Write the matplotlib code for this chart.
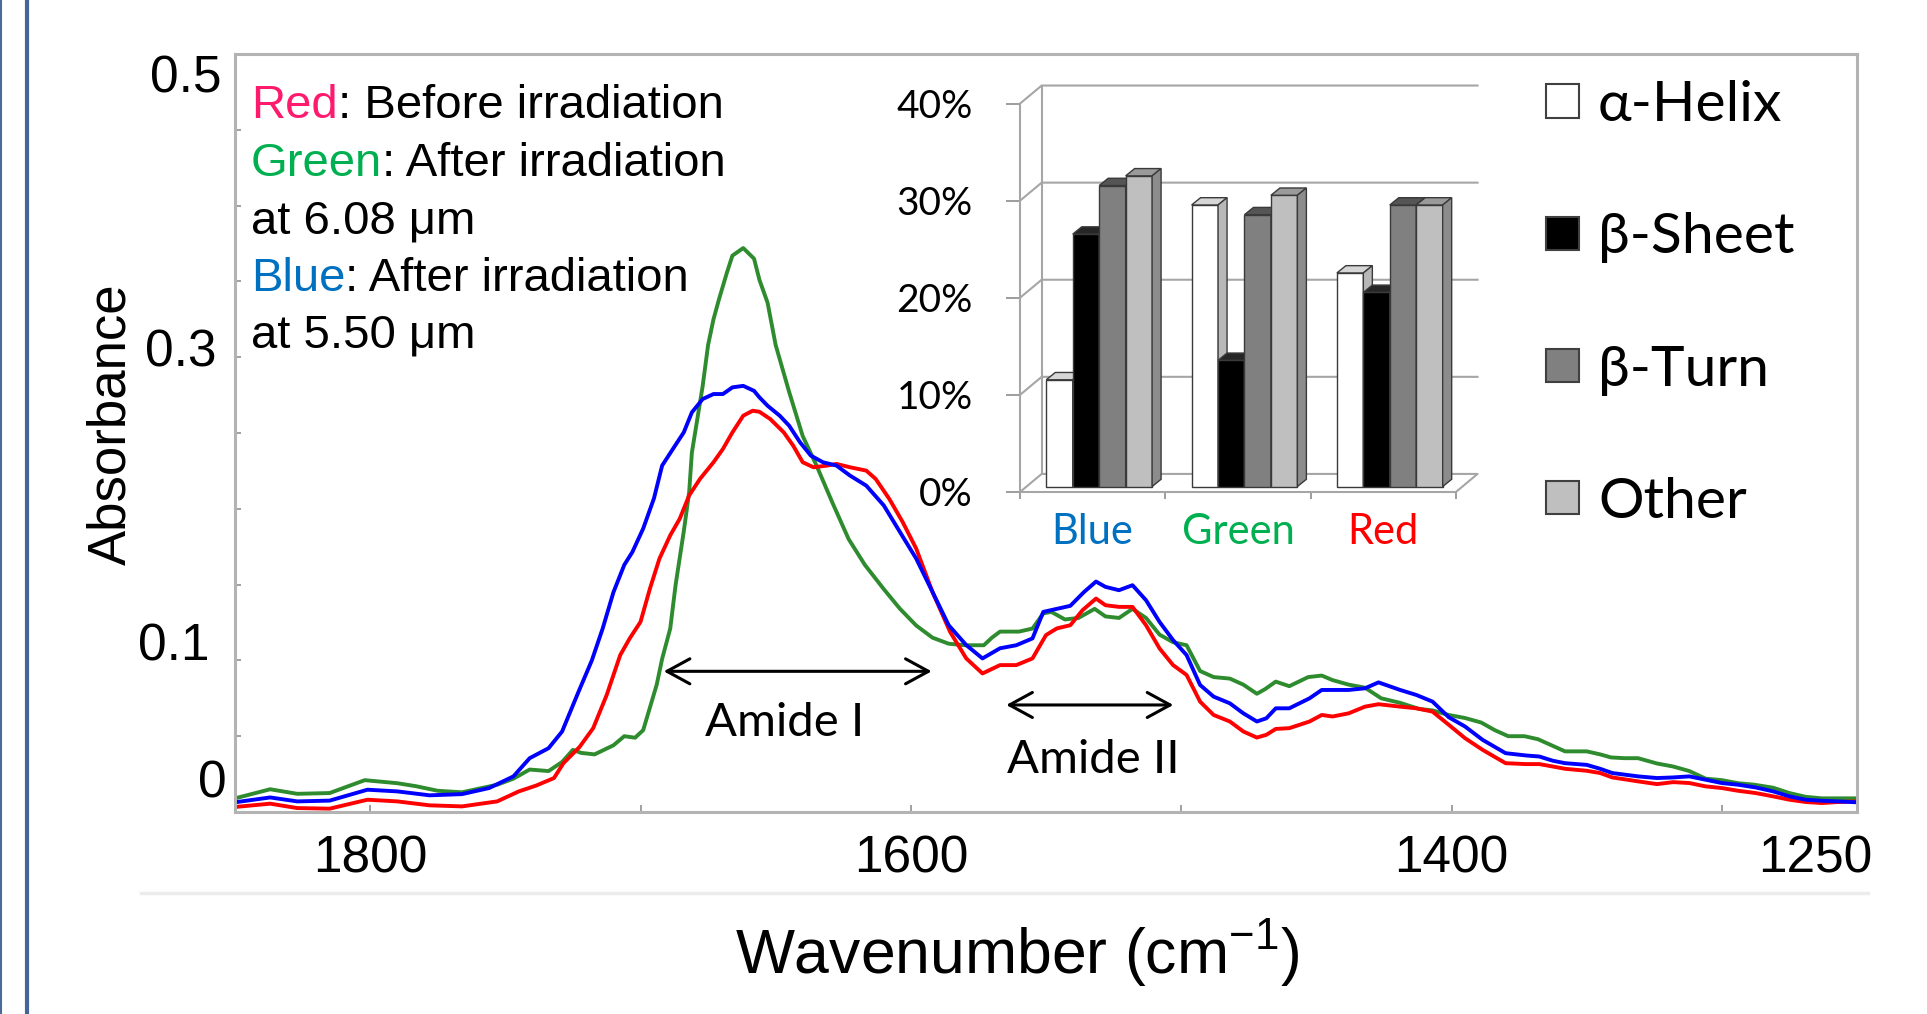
import numpy as np
import matplotlib
matplotlib.use("Agg")
import matplotlib.pyplot as plt
from matplotlib.patches import Polygon, Rectangle
from matplotlib.lines import Line2D
from matplotlib.transforms import ScaledTranslation

plt.rcParams['font.family'] = ['Liberation Sans', 'DejaVu Sans']
plt.rcParams['mathtext.fontset'] = 'custom'
plt.rcParams['mathtext.rm'] = 'Liberation Sans'
plt.rcParams['mathtext.it'] = 'Liberation Sans:italic'
plt.rcParams['mathtext.bf'] = 'Liberation Sans:bold'
CALIBRI = ['Lato', 'DejaVu Sans']   # closest thing to the Calibri text of the inset

# --- spectra (wavenumber cm-1, absorbance) ---
GREEN_WN = [1850, 1837, 1827, 1815, 1802, 1790, 1783, 1775, 1766, 1753, 1747, 1741, 1734, 1729,
            1725, 1722, 1717, 1710, 1706, 1702, 1699, 1697, 1694, 1692, 1689, 1687, 1684, 1682,
            1681, 1679, 1677, 1675, 1673, 1671, 1668, 1666, 1662, 1658, 1656, 1653, 1650, 1645,
            1640, 1635, 1629, 1623, 1617, 1610, 1604, 1598, 1592, 1586, 1580, 1573, 1570, 1567,
            1560, 1555, 1551, 1548, 1543, 1538, 1532, 1528, 1523, 1518, 1513, 1508, 1503, 1498,
            1493, 1488, 1482, 1477, 1472, 1469, 1465, 1460, 1453, 1448, 1444, 1438, 1432, 1426,
            1419, 1412, 1407, 1401, 1395, 1389, 1384, 1379, 1373, 1368, 1363, 1358, 1350, 1345,
            1341, 1336, 1331, 1324, 1318, 1312, 1306, 1300, 1294, 1288, 1281, 1275, 1269, 1263,
            1257, 1250]
GREEN_A = [0.009, 0.015, 0.012, 0.0125, 0.021, 0.019, 0.017, 0.014, 0.013, 0.018, 0.022, 0.028,
           0.027, 0.033, 0.041, 0.039, 0.038, 0.044, 0.050, 0.049, 0.054, 0.066, 0.084, 0.101,
           0.121, 0.150, 0.185, 0.211, 0.237, 0.259, 0.281, 0.308, 0.325, 0.338, 0.356, 0.367,
           0.372, 0.365, 0.351, 0.336, 0.308, 0.277, 0.248, 0.229, 0.204, 0.180, 0.163, 0.147,
           0.134, 0.123, 0.115, 0.111, 0.110, 0.110, 0.115, 0.119, 0.119, 0.121, 0.131, 0.132,
           0.127, 0.128, 0.134, 0.129, 0.128, 0.134, 0.128, 0.117, 0.112, 0.110, 0.093, 0.089,
           0.088, 0.084, 0.078, 0.081, 0.086, 0.083, 0.089, 0.090, 0.087, 0.084, 0.082, 0.075,
           0.072, 0.068, 0.067, 0.064, 0.062, 0.059, 0.054, 0.050, 0.050, 0.048, 0.044, 0.040,
           0.040, 0.038, 0.036, 0.0355, 0.0355, 0.032, 0.030, 0.027, 0.022, 0.021, 0.019, 0.018,
           0.016, 0.0125, 0.010, 0.009, 0.009, 0.009]

BLUE_WN = [1850, 1837, 1827, 1815, 1801, 1790, 1778, 1766, 1756, 1747, 1741, 1734, 1729, 1723,
           1718, 1714, 1710, 1706, 1703, 1699, 1695, 1692, 1688, 1684, 1681, 1677, 1673, 1669.5,
           1666, 1662, 1658, 1656, 1653, 1648.5, 1645, 1641, 1637, 1632.5, 1627.5, 1622.5,
           1616.5, 1610, 1604, 1598, 1592, 1586, 1579.5, 1573.5, 1567, 1561, 1555, 1551, 1546,
           1541, 1536, 1531.5, 1528, 1523, 1518, 1513, 1508, 1503, 1498, 1493, 1488, 1482, 1477,
           1472, 1468.5, 1465, 1460, 1452.5, 1448, 1438, 1432, 1427, 1419, 1413, 1407, 1401,
           1395, 1388.5, 1380, 1372.5, 1367.5, 1362.5, 1358, 1350, 1345, 1340.5, 1331, 1324,
           1318, 1312, 1306, 1300, 1294, 1287.5, 1281, 1275, 1269, 1263, 1257, 1250]
BLUE_A = [0.0064, 0.0096, 0.007, 0.0075, 0.0147, 0.0136, 0.011, 0.0118, 0.0158, 0.0235, 0.0355,
          0.0421, 0.0531, 0.079, 0.100, 0.121, 0.145, 0.163, 0.1715, 0.187, 0.207, 0.2285,
          0.2395, 0.2504, 0.2636, 0.2724, 0.2757, 0.2757, 0.2801, 0.2811, 0.2778, 0.2735, 0.268,
          0.2614, 0.2548, 0.2439, 0.2351, 0.2307, 0.2285, 0.2219, 0.2153, 0.2022, 0.1846,
          0.1671, 0.1452, 0.1232, 0.1101, 0.1013, 0.108, 0.110, 0.1145, 0.132, 0.134, 0.136,
          0.145, 0.152, 0.1485, 0.1463, 0.1496, 0.1397, 0.1254, 0.1134, 0.1035, 0.0838, 0.0761,
          0.0717, 0.0651, 0.0597, 0.0618, 0.0684, 0.0684, 0.075, 0.0805, 0.0805, 0.0816,
          0.0855, 0.0805, 0.0772, 0.0728, 0.0625, 0.0564, 0.0476, 0.0388, 0.0373, 0.0366,
          0.0338, 0.0322, 0.0311, 0.0285, 0.0257, 0.0235, 0.0224, 0.0228, 0.0235, 0.0213,
          0.0191, 0.018, 0.0162, 0.0136, 0.0103, 0.0081, 0.0074, 0.007, 0.0064]

RED_WN = [1850, 1837, 1827, 1815, 1801, 1790, 1778, 1766, 1753, 1745, 1738.5, 1732, 1728.5,
          1722.5, 1717.5, 1712.5, 1707.5, 1704, 1700, 1696.5, 1693, 1689, 1685.5, 1682, 1678,
          1673, 1669.5, 1666, 1662, 1658.5, 1656, 1652, 1647, 1643.5, 1640, 1636, 1631, 1627.5,
          1622.5, 1616.5, 1613, 1608, 1603, 1598, 1592, 1585.5, 1579.5, 1573.5, 1567, 1561,
          1555, 1550, 1546, 1541, 1536.5, 1531.5, 1528, 1523, 1518, 1513, 1508, 1503, 1498,
          1493, 1488, 1482, 1477, 1472, 1468.5, 1465, 1460, 1452.5, 1448, 1444, 1438, 1432,
          1427, 1419, 1413, 1407, 1401, 1395, 1388.5, 1380, 1372.5, 1367.5, 1362.5, 1358, 1350,
          1345, 1340.5, 1331, 1324, 1318, 1312, 1306, 1300, 1294, 1287.5, 1281, 1275, 1269,
          1263, 1257, 1250]
RED_A = [0.0033, 0.0055, 0.0026, 0.0022, 0.0081, 0.007, 0.0044, 0.0037, 0.007, 0.0136, 0.0175,
         0.0224, 0.0322, 0.043, 0.0553, 0.0772, 0.1035, 0.1145, 0.1254, 0.1474, 0.1671, 0.1825,
         0.1934, 0.2088, 0.2197, 0.2307, 0.2395, 0.2504, 0.2614, 0.2647, 0.264, 0.2592, 0.2504,
         0.2416, 0.2307, 0.2274, 0.2285, 0.2296, 0.2274, 0.2252, 0.2197, 0.2066, 0.1912,
         0.1737, 0.1452, 0.1189, 0.1013, 0.0914, 0.0969, 0.0969, 0.1013, 0.1167, 0.1211,
         0.1232, 0.1331, 0.1408, 0.1364, 0.1353, 0.1353, 0.1232, 0.1079, 0.0969, 0.0904,
         0.0728, 0.064, 0.0597, 0.0531, 0.0491, 0.0509, 0.0548, 0.0553, 0.0597, 0.064, 0.063,
         0.0651, 0.0695, 0.0711, 0.0695, 0.0684, 0.0662, 0.0575, 0.0487, 0.041, 0.0322, 0.0316,
         0.0316, 0.030, 0.0285, 0.0272, 0.0257, 0.0228, 0.0202, 0.0184, 0.0197, 0.0191, 0.0169,
         0.0158, 0.014, 0.0125, 0.0103, 0.0081, 0.0066, 0.0059, 0.0066, 0.007]

X_TICKS = [1800, 1700, 1600, 1500, 1400, 1300, 1250]
X_TICK_LABELS = ['1800', '', '1600', '', '1400', '', '1250']
Y_TICKS = [0, 0.05, 0.1, 0.15, 0.2, 0.25, 0.3, 0.35, 0.4, 0.45, 0.5]
Y_TICK_LABELS = ['0', '', '0.1', '', '', '', '0.3', '', '', '', '0.5']

# --- secondary structure content (%) ---
CATEGORIES = ['Blue', 'Green', 'Red']
STRUCTURES = ['α-Helix', 'β-Sheet', 'β-Turn', 'Other']
HELIX = [11, 29, 22]
SHEET = [26, 13, 20]
TURN = [31, 28, 29]
OTHER = [32, 30, 29]
PCT_TICKS = [0, 10, 20, 30, 40]

CAT_COLORS = ['#0070c0', '#00b050', '#ff0000']
FACE = ['#ffffff', '#000000', '#808080', '#bfbfbf']
SIDE = ['#b8b8b8', '#000000', '#5a5a5a', '#8c8c8c']
TOP = ['#d6d6d6', '#262626', '#555555', '#9a9a9a']
EDGE = '#3a3a3a'

W, H = 1927, 1014
fig = plt.figure(figsize=(W / 100, H / 100), dpi=100)


def fig_box(x0, y0, x1, y1):
    # pixel box measured from top-left -> figure fraction [l, b, w, h]
    return [x0 / W, 1 - y1 / H, (x1 - x0) / W, (y1 - y0) / H]


def shift(dx, dy):
    return ScaledTranslation(dx / 100, dy / 100, fig.dpi_scale_trans)


# slide decoration
fig.add_artist(Line2D([1 / W, 1 / W], [0, 1], color='#4a6a9c', lw=1.5))
fig.add_artist(Line2D([27 / W, 27 / W], [0, 1], color='#44649a', lw=3))
fig.add_artist(Line2D([141 / W, 1868 / W], [1 - 893 / H] * 2, color='#ececec', lw=2.5))

# ---------------- main spectrum ----------------
ax = fig.add_axes(fig_box(235, 54, 1857, 812))
ax.plot(GREEN_WN, GREEN_A, color='#2e8b2e', lw=2.8)
ax.plot(RED_WN, RED_A, color='#ff0000', lw=2.8)
ax.plot(BLUE_WN, BLUE_A, color='#0000ff', lw=2.8)
ax.set_xlim(1850, 1250)
ax.set_ylim(0, 0.5)
ax.set_xticks(X_TICKS, labels=X_TICK_LABELS)
ax.set_yticks(Y_TICKS, labels=Y_TICK_LABELS)
ax.tick_params(direction='in', color='#999999', width=1.3, labelsize=37)
ax.tick_params(axis='x', length=5, pad=16)
ax.tick_params(axis='y', length=4, pad=10)
for s in ax.spines.values():
    s.set_color('#b3b3b3')
    s.set_linewidth(2.2)

# the hand-placed tick labels of the original sit a little off their ticks
YLAB_SHIFT = {'0': (6, 34), '0.1': (-12, 19), '0.3': (-5, 10), '0.5': (0, -20)}
for tick, lab in zip(ax.yaxis.get_major_ticks(), Y_TICK_LABELS):
    if lab in YLAB_SHIFT:
        tick.label1.set_transform(tick.label1.get_transform() + shift(*YLAB_SHIFT[lab]))
for tick, lab in zip(ax.xaxis.get_major_ticks(), X_TICK_LABELS):
    if lab == '1250':
        tick.label1.set_transform(tick.label1.get_transform() + shift(-42, 0))

ax.set_xlabel(r'Wavenumber (cm$^{\mathrm{-1}}$)', fontsize=45)
ax.xaxis.set_label_coords(0.482, -0.186)
ax.xaxis.label.set_va('center')
ax.set_ylabel('Absorbance', fontsize=38)
ax.yaxis.set_label_coords(-0.0764, 0.512)
ax.yaxis.label.set_va('center')

arrow_kw = dict(arrowstyle='<->, head_length=0.55, head_width=0.3', lw=2.2, color='black',
                mutation_scale=30, shrinkA=0, shrinkB=0)
ax.annotate('', xy=(1592.3, 0.0928), xytext=(1691.4, 0.0928), arrowprops=arrow_kw)
ax.annotate('', xy=(1502.9, 0.0706), xytext=(1564.7, 0.0706), arrowprops=arrow_kw)
ax.text(1646.7, 0.0586, 'Amide I', fontsize=34, family=CALIBRI, ha='center', va='center')
ax.text(1532.4, 0.034, 'Amide II', fontsize=34, family=CALIBRI, ha='center', va='center')

# colour key written in the top-left corner
NOTE_LINES = [[('Red', '#ff1a6e'), (': Before irradiation', 'black')],
              [('Green', '#00b050'), (': After irradiation', 'black')],
              [('at 6.08 μm', 'black')],
              [('Blue', '#0070c0'), (': After irradiation', 'black')],
              [('at 5.50 μm', 'black')]]
for k, parts in enumerate(NOTE_LINES):
    prev = fig.text(251 / W, 1 - (118 + 57.5 * k) / H, parts[0][0], color=parts[0][1],
                    fontsize=34, va='baseline')
    for txt, col in parts[1:]:
        prev = ax.annotate(txt, xy=(1, 0), xycoords=prev, color=col, fontsize=34,
                           ha='left', va='bottom')

# ---------------- inset: 3-D style bar chart ----------------
DX, DY = 0.149, 1.86            # depth of the box walls
BAR_W, BAR_DX, BAR_DY, BAR_B, BAR_SHIFT = 0.182, 0.062, 0.75, 0.56, 0.045

ax2 = fig.add_axes(fig_box(1020, 86, 1480, 492))
ax2.patch.set_visible(False)
grid_kw = dict(color='#a6a6a6', lw=1.5, zorder=1, clip_on=False)
ax2.plot([0, DX, 3 + DX, 3], [0, DY, DY, 0], **grid_kw)
ax2.plot([DX, DX], [DY, 40 + DY], **grid_kw)
for v in PCT_TICKS[1:]:
    ax2.plot([0, DX, 3 + DX], [v, v + DY, v + DY], **grid_kw)

pos = np.arange(len(CATEGORIES)) + 0.5 + BAR_SHIFT
for j, vals in enumerate([HELIX, SHEET, TURN, OTHER]):
    x0 = pos + (j - 2) * BAR_W
    z = 3 + j
    ax2.bar(x0, vals, BAR_W, bottom=BAR_B, align='edge', color=FACE[j], edgecolor=EDGE,
            lw=1, zorder=z)
    for x, v in zip(x0, vals):
        top = BAR_B + v
        ax2.add_patch(Polygon([(x, top), (x + BAR_DX, top + BAR_DY),
                               (x + BAR_W + BAR_DX, top + BAR_DY), (x + BAR_W, top)],
                              fc=TOP[j], ec=EDGE, lw=1, zorder=z))
        ax2.add_patch(Polygon([(x + BAR_W, BAR_B), (x + BAR_W + BAR_DX, BAR_B + BAR_DY),
                               (x + BAR_W + BAR_DX, top + BAR_DY), (x + BAR_W, top)],
                              fc=SIDE[j], ec=EDGE, lw=1, zorder=z))

ax2.set_xlim(0, 460 / 145.3)
ax2.set_ylim(0, 406 / 9.71)
ax2.set_yticks(PCT_TICKS, labels=[f'{v}%' for v in PCT_TICKS])
ax2.set_xticks([0, 1, 2, 3], labels=[])
ax2.set_xticks(np.arange(len(CATEGORIES)) + 0.5, labels=CATEGORIES, minor=True)
ax2.tick_params(axis='y', direction='out', length=10, width=1.2, color='#8c8c8c', pad=24,
                labelsize=28, labelfontfamily=CALIBRI)
ax2.tick_params(axis='x', which='major', direction='out', length=5, width=1.2,
                color='#8c8c8c')
ax2.tick_params(axis='x', which='minor', length=0, pad=15, labelsize=30,
                labelfontfamily=CALIBRI)
for lab, col in zip(ax2.get_xticklabels(minor=True), CAT_COLORS):
    lab.set_color(col)
for s in ('top', 'right'):
    ax2.spines[s].set_visible(False)
ax2.spines['left'].set_bounds(0, 40)
ax2.spines['bottom'].set_bounds(0, 3)
for s in ('left', 'bottom'):
    ax2.spines[s].set_color('#a6a6a6')
    ax2.spines[s].set_linewidth(1.5)

# legend for the inset, drawn as a plain key on the right
for k, (name, face) in enumerate(zip(STRUCTURES, FACE)):
    yc = 101 + 132.3 * k
    fig.add_artist(Rectangle((1546 / W, 1 - (yc + 16.5) / H), 33 / W, 33 / H,
                             transform=fig.transFigure, fc=face, ec='#404040', lw=1.5))
    fig.text(1598 / W, 1 - (yc + 20) / H, name, fontsize=41, family=CALIBRI, va='baseline')

fig.savefig('out.png', dpi=100)
